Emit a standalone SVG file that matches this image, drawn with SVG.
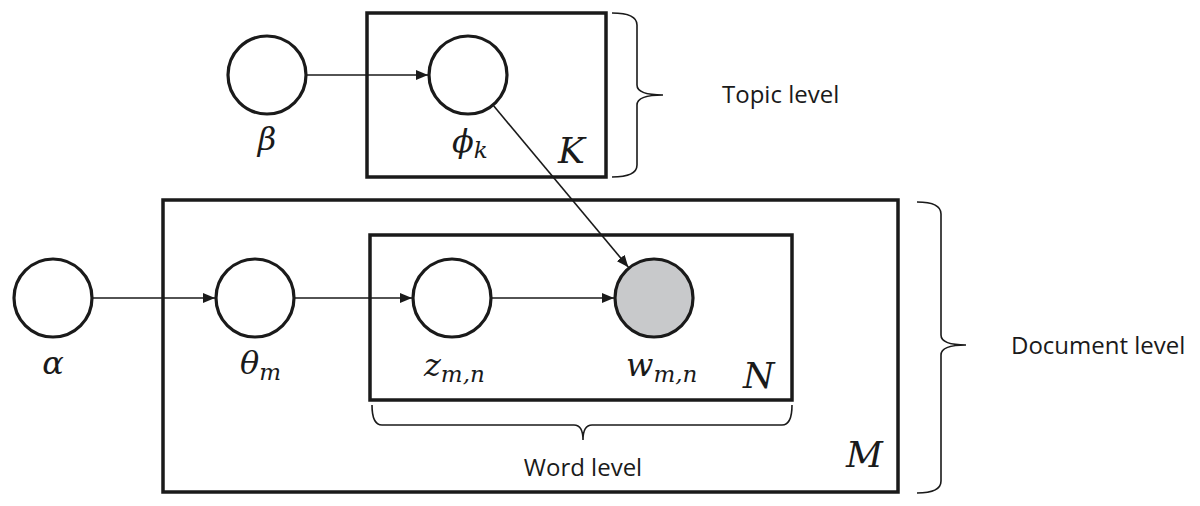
<svg xmlns="http://www.w3.org/2000/svg" width="1200" height="506" viewBox="0 0 1200 506">
<style>
.plate{fill:none;stroke:#1a1a1a;stroke-width:3.5}
.node{fill:#fff;stroke:#1a1a1a;stroke-width:3.2}
.obs{fill:#c8c9cb;stroke:#1a1a1a;stroke-width:3.2}
.edge{stroke:#1a1a1a;stroke-width:1.6;fill:none;marker-end:url(#ah)}
.brace{fill:none;stroke:#1a1a1a;stroke-width:1.6}
.math{font-family:"DejaVu Serif","Liberation Serif",serif;font-style:italic;fill:#1a1a1a}
.lbl{font-family:"Open Sans","Noto Sans",sans-serif;fill:#1a1a1a;font-size:24px}
</style>
<defs>
<marker id="ah" viewBox="0 0 12 10" refX="12" refY="5" markerWidth="12" markerHeight="10" markerUnits="userSpaceOnUse" orient="auto">
<path d="M0,0 L12,5 L0,10 z" fill="#1a1a1a"/>
</marker>
</defs>
<g id="plate-K"><rect class="plate" x="367" y="13" width="239" height="164"/><text class="math" x="558" y="163" font-size="36">K</text></g>
<g id="plate-M"><rect class="plate" x="163" y="200" width="735" height="292"/><text class="math" x="846" y="467" font-size="36">M</text></g>
<g id="plate-N"><rect class="plate" x="370" y="235" width="422" height="165"/><text class="math" x="743" y="388" font-size="36">N</text></g>
<g id="connectors">
<line class="edge" x1="307" y1="75" x2="428" y2="75"/>
<line class="edge" x1="93" y1="298" x2="215" y2="298"/>
<line class="edge" x1="295" y1="298" x2="412" y2="298"/>
<line class="edge" x1="492" y1="298" x2="614" y2="298"/>
<line class="edge" x1="493.6" y1="105.8" x2="628.4" y2="267.2"/>
</g>
<g id="node-beta"><circle class="node" cx="267" cy="75" r="39"/><text class="math" x="267" y="150" font-size="32" text-anchor="middle">β</text></g>
<g id="node-phi"><circle class="node" cx="468" cy="75" r="39"/><text class="math" x="452" y="152" font-size="32">ϕ<tspan font-size="23" dy="6">k</tspan></text></g>
<g id="node-alpha"><circle class="node" cx="53" cy="298" r="39"/><text class="math" x="53" y="374" font-size="32" text-anchor="middle">α</text></g>
<g id="node-theta"><circle class="node" cx="255" cy="298" r="39"/><text class="math" x="240" y="374" font-size="32">θ<tspan font-size="23" dy="6">m</tspan></text></g>
<g id="node-z"><circle class="node" cx="452" cy="298" r="39"/><text class="math" x="424" y="376" font-size="32">z<tspan font-size="23" dy="6">m,n</tspan></text></g>
<g id="node-w"><circle class="obs" cx="654" cy="298" r="39"/><text class="math" x="626" y="376" font-size="32">w<tspan font-size="23" dy="6">m,n</tspan></text></g>
<g id="brace-topic"><path class="brace" d="M612,13 Q637,13 637,25 L637,85 Q637,95 663,95 Q637,95 637,105 L637,165 Q637,177 612,177"/><text class="lbl" x="722" y="103">Topic level</text></g>
<g id="brace-document"><path class="brace" d="M917,202 Q941,202 941,214 L941,335 Q941,345 966,345 Q941,345 941,355 L941,481 Q941,493 917,493"/><text class="lbl" x="1011" y="354">Document level</text></g>
<g id="brace-word"><path class="brace" d="M372,405 Q372,425 382,425 L574,425 Q583,425 583,440 Q583,425 592,425 L782,425 Q792,425 792,405"/><text class="lbl" x="583" y="476" text-anchor="middle">Word level</text></g>
</svg>
